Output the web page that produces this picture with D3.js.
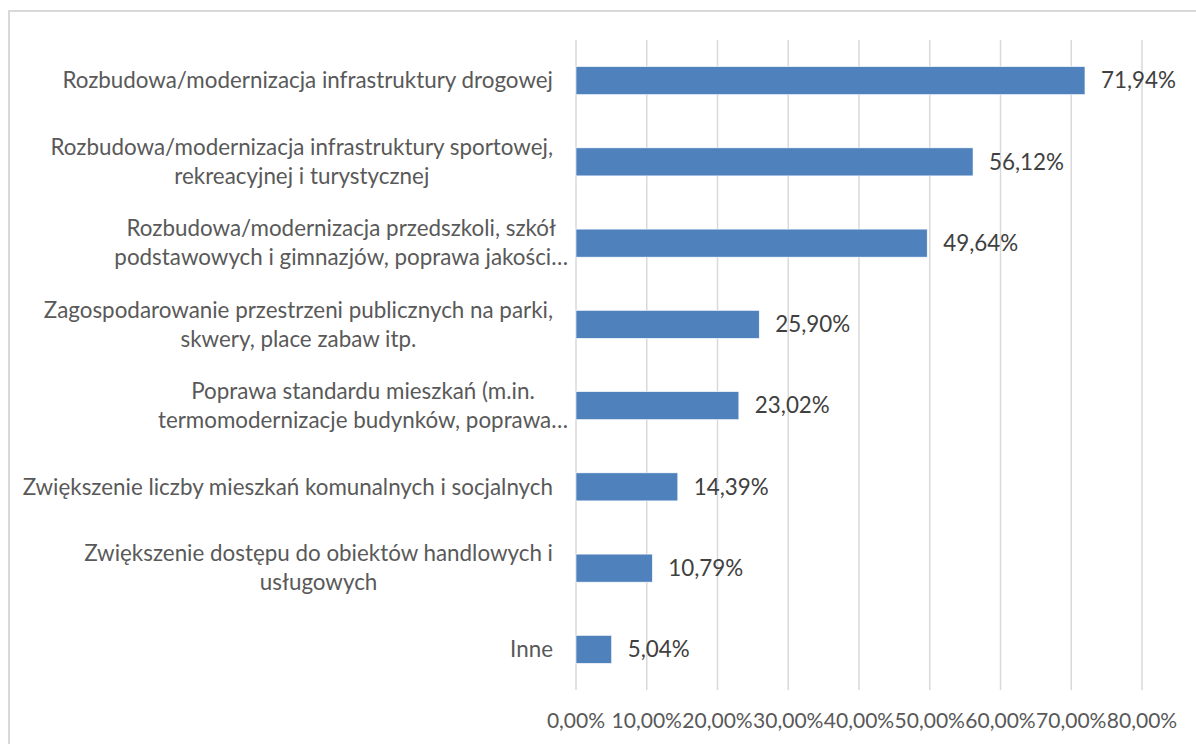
<!DOCTYPE html>
<html>
<head>
<meta charset="utf-8">
<script src="https://cdn.jsdelivr.net/npm/d3@7"></script>
<style>
  html, body { margin: 0; padding: 0; background: #ffffff; }
  svg { display: block; }
</style>
</head>
<body>
<svg id="chart" width="1196" height="744"></svg>
<script>
const categories = [
  "Rozbudowa/modernizacja infrastruktury drogowej",
  "Rozbudowa/modernizacja infrastruktury sportowej,\nrekreacyjnej i turystycznej",
  "Rozbudowa/modernizacja przedszkoli, szkół\npodstawowych i gimnazjów, poprawa jakości…",
  "Zagospodarowanie przestrzeni publicznych na parki,\nskwery, place zabaw itp.",
  "Poprawa standardu mieszkań (m.in.\ntermomodernizacje budynków, poprawa…",
  "Zwiększenie liczby mieszkań komunalnych i socjalnych",
  "Zwiększenie dostępu do obiektów handlowych i\nusługowych",
  "Inne"
];
const values = [71.94, 56.12, 49.64, 25.90, 23.02, 14.39, 10.79, 5.04];
const xTicks = [0, 10, 20, 30, 40, 50, 60, 70, 80];

const svg = d3.select("#chart");
const FONT = "Lato, 'Open Sans', sans-serif";

// calibrate font size so the longest single-line label matches the reference width (~491px)
const probe = svg.append("text").attr("font-family", FONT).attr("font-size", 20)
  .text(categories[0]);
const measured = probe.node().getComputedTextLength();
probe.remove();
const fs = 20 * 491 / measured;

// frame
svg.append("rect")
  .attr("x", 9).attr("y", 11).attr("width", 1300).attr("height", 900)
  .attr("fill", "none").attr("stroke", "#d9d9d9").attr("stroke-width", 2);

const x = d3.scaleLinear().domain([0, 80]).range([576, 1142]);
const y = d3.scaleBand().domain(categories).range([40, 690])
  .paddingInner(0.655).paddingOuter(0.3275);

// gridlines
svg.append("g").selectAll("line").data(xTicks).join("line")
  .attr("x1", d => x(d)).attr("x2", d => x(d))
  .attr("y1", 40).attr("y2", 690)
  .attr("stroke", "#d9d9d9").attr("stroke-width", 1.5);

// x tick labels
const fmt = v => v.toFixed(2).replace(".", ",") + "%";
svg.append("g").selectAll("text").data(xTicks).join("text")
  .attr("x", d => x(d)).attr("y", 721).attr("dy", "0.35em")
  .attr("text-anchor", "middle")
  .attr("font-family", FONT).attr("font-size", fs * 0.94)
  .attr("fill", "#595959")
  .text(d => fmt(d));

// bars
svg.append("g").selectAll("rect").data(categories).join("rect")
  .attr("x", x(0))
  .attr("y", d => y(d))
  .attr("width", (d, i) => x(values[i]) - x(0))
  .attr("height", y.bandwidth())
  .attr("fill", "#4f81bd")
  .attr("stroke", "#ffffff").attr("stroke-width", 0.6);

// value labels
svg.append("g").selectAll("text").data(categories).join("text")
  .attr("x", (d, i) => x(values[i]) + 16)
  .attr("y", d => y(d) + y.bandwidth() / 2)
  .attr("dy", "0.35em")
  .attr("font-family", FONT).attr("font-size", fs)
  .attr("fill", "#404040")
  .text((d, i) => fmt(values[i]));

// category labels (centered lines within a right-aligned block)
const lineH = 29;
const labelG = svg.append("g");
categories.forEach(c => {
  const lines = c.split("\n");
  const truncated = lines.some(l => l.endsWith("…"));
  const rightEdge = truncated ? 568 : 553;
  const cy = y(c) + y.bandwidth() / 2;
  const t = labelG.append("text")
    .attr("font-family", FONT).attr("font-size", fs)
    .attr("fill", "#595959").attr("text-anchor", "middle");
  const spans = lines.map((l, i) => t.append("tspan").text(l));
  const widths = spans.map(s => s.node().getComputedTextLength());
  const maxW = d3.max(widths);
  const cx = rightEdge - maxW / 2;
  spans.forEach((s, i) => {
    s.attr("x", cx)
     .attr("y", cy + (i - (lines.length - 1) / 2) * lineH)
     .attr("dy", "0.35em");
  });
});
</script>
</body>
</html>
